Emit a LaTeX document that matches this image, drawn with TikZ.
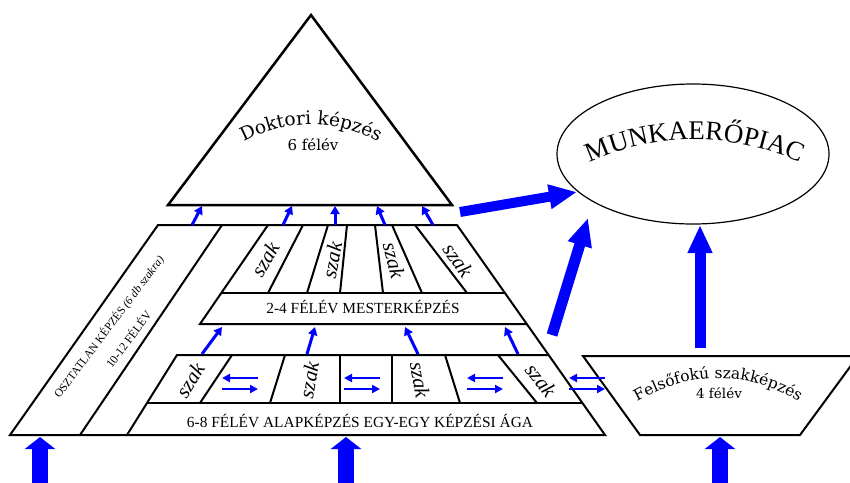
\documentclass[tikz,border=0pt]{standalone}
\usepackage{fontspec}
\setmainfont{Liberation Serif}
\newfontfamily\arcfont{DejaVu Serif}
\usetikzlibrary{arrows.meta}
\usetikzlibrary{shapes.geometric}
\usetikzlibrary{decorations.text}

\begin{document}
\begin{tikzpicture}[x=1pt,y=-1pt,line join=miter]
		\tikzstyle{edgeline}=[black,line width=2pt]
		\tikzstyle{smallarr}=[blue,line width=3pt,-{Triangle[length=8pt,width=9pt]}]
		\tikzstyle{swaparr}=[blue,line width=2.6pt,-{Triangle[length=8pt,width=8pt]}]
		\tikzstyle{bigarr}=[blue,line width=11pt,-{Triangle[length=28pt,width=23pt]}]
		\tikzstyle{basearr}=[blue,line width=16pt,-{Triangle[length=12pt,width=30pt]}]
		\tikzstyle{szak}=[font=\itshape\fontsize{21}{21}\selectfont,inner sep=0pt]
		\tikzstyle{barlabel}=[font=\fontsize{15.4}{16}\selectfont,anchor=base,inner sep=0pt]
		
		\useasboundingbox (0,0) rectangle (850,482);
		\clip (0,0) rectangle (850,482);
		
		% doktori
		\coordinate (DT) at (311,15);
		\coordinate (DL) at (168,205);
		\coordinate (DR) at (452,205);
		\draw[line width=2.5pt] (DT) -- (DL) -- (DR) -- cycle;
		\path[decorate,decoration={text along path,text align=center,
			text={|\arcfont\fontsize{18.5}{18.5}\selectfont|Doktori képzés}}]
			(240,144) .. controls (287,118) and (335,118) .. (382,144);
		\node[font=\arcfont\fontsize{15}{15}\selectfont,inner sep=0pt] (DF) at (313,145) {6 félév};
		
		% pyramid body
		\coordinate (T1) at (158,225);
		\coordinate (T2) at (457,225);
		\coordinate (T3) at (605,435);
		\coordinate (T4) at (10,435);
		\draw[edgeline] (T1) -- (T2) -- (T3) -- (T4) -- cycle;
		\draw[edgeline] (222,225) -- (80,435);
		\node[rotate=53,font=\fontsize{11.5}{12}\selectfont,inner sep=0pt] (O1) at (109,327)
			{OSZTATLAN KÉPZÉS \textit{(6 db szakra)}};
		\node[rotate=53,font=\fontsize{11.8}{12}\selectfont,inner sep=0pt] (O2) at (128,339)
			{10-12 FÉLÉV};
		
		% mesterkepzes
		\draw[edgeline] (268,225) -- (200,324) -- (527,324);
		\draw[edgeline] (222,293) -- (505,293);
		\foreach \a/\b in {303/268,328/307,347/340,375/383,392/422,415/467}
			\draw[edgeline] (\a,225) -- (\b,293);
		\node[szak,rotate=60] (M1) at (265,259) {szak};
		\node[szak,rotate=79] (M2) at (332,260) {szak};
		\node[szak,rotate=-76] (M3) at (394,260) {szak};
		\node[szak,rotate=-55] (M4) at (458,260) {szak};
		\node[barlabel] (M) at (363,313) {2-4 FÉLÉV MESTERKÉPZÉS};
		
		% alapkepzes
		\draw[edgeline] (127,435) -- (177,355) -- (549,355);
		\draw[edgeline] (147,403) -- (583,403);
		\foreach \a/\b in {232/200,285/270,340/340,392/392,445/460,498/537}
			\draw[edgeline] (\a,355) -- (\b,403);
		\node[szak,rotate=58] (A1) at (190,380) {szak};
		\node[szak,rotate=80] (A2) at (309,380) {szak};
		\node[szak,rotate=-80] (A3) at (420,380) {szak};
		\node[szak,rotate=-52] (A4) at (541,380) {szak};
		\node[barlabel] (A) at (360,427) {6-8 FÉLÉV ALAPKÉPZÉS EGY-EGY KÉPZÉSI ÁGA};
		
		% felsofoku
		\coordinate (F1) at (583,356);
		\coordinate (F2) at (858,356);
		\coordinate (F3) at (800,435);
		\coordinate (F4) at (640,435);
		\draw[edgeline] (F1) -- (F2) -- (F3) -- (F4) -- cycle;
		\path[decorate,decoration={text along path,text align=center,
			text={|\arcfont\fontsize{15.5}{15.5}\selectfont|Felsőfokú szakképzés}}]
			(634,403) .. controls (689,370) and (747,370) .. (802,403);
		\node[font=\arcfont\fontsize{13.5}{13.5}\selectfont,inner sep=0pt] (FF) at (719,393) {4 félév};
		
		% munkaeropiac
		\node[draw,ellipse,line width=1.2pt,minimum width=272pt,minimum height=140pt,
			inner sep=0pt] (P) at (693,154) {};
		\path[decorate,decoration={text along path,text align=center,
			text={|\fontsize{27}{27}\selectfont|MUNKAERŐPIAC}}]
			(583,166) .. controls (653,131) and (737,131) .. (807,166);
		
		% arrows
		\foreach \n/\a/\b in {1/192/202,2/283/292,3/335/335,4/385/377,5/433/422}{
			\coordinate (s\n) at (\a,225);
			\coordinate (t\n) at (\b,206);
			\draw[smallarr] (s\n) -- (t\n);
		}
		\foreach \n/\a/\b in {1/202/222,2/307/315,3/418/405,4/518/505}{
			\coordinate (u\n) at (\a,354);
			\coordinate (v\n) at (\b,327);
			\draw[smallarr] (u\n) -- (v\n);
		}
		\foreach \n/\c in {1/240,2/362,3/485,4/587}{
			\coordinate (l\n) at (\c-18,378);
			\coordinate (r\n) at (\c+18,389);
			\draw[swaparr] (\c+18,378) -- (l\n);
			\draw[swaparr] (\c-18,389) -- (r\n);
		}
		\coordinate (b1) at (460,212);
		\coordinate (e1) at (577,192);
		\coordinate (b2) at (552,335);
		\coordinate (e2) at (588,218);
		\coordinate (b3) at (700,348);
		\coordinate (e3) at (700,225);
		\draw[bigarr,line width=10pt] (b1) -- (e1);
		\draw[bigarr] (b2) -- (e2);
		\draw[bigarr] (b3) -- (e3);
		\foreach \n/\c in {1/40,2/346,3/720}{
			\coordinate (g\n) at (\c,437);
			\draw[basearr] (\c,490) -- (g\n);
		}
	\end{tikzpicture}
\end{document}
